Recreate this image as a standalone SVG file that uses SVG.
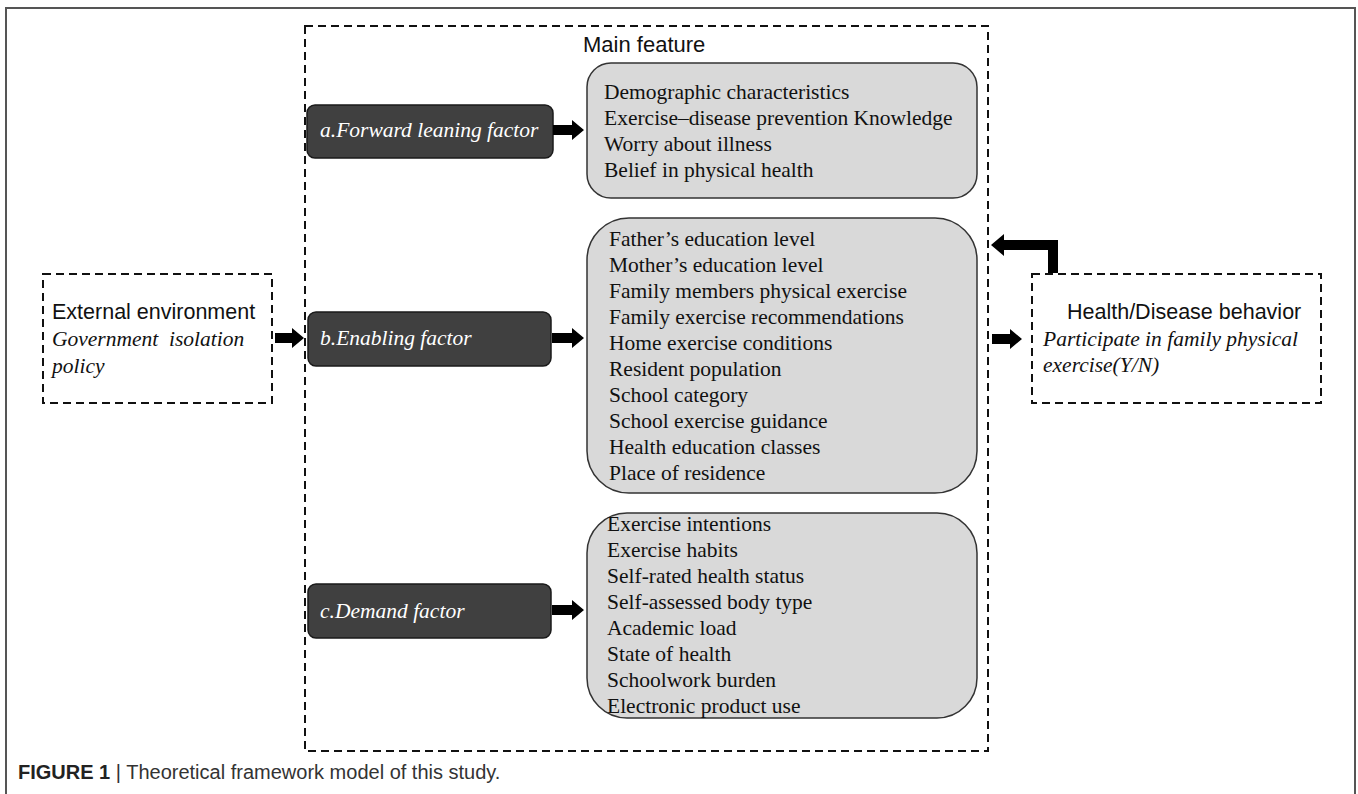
<svg xmlns="http://www.w3.org/2000/svg" width="1358" height="794" viewBox="0 0 1358 794">
<style>
.frame{fill:none;stroke:#555;stroke-width:2}
.dash{fill:none;stroke:#111;stroke-width:2;stroke-dasharray:8 5}
.dark{fill:#404040;stroke:#1a1a1a;stroke-width:1.5}
.grey{fill:#d9d9d9;stroke:#333;stroke-width:1.5}
.sans{font-family:"Liberation Sans",Arial,sans-serif;font-size:21.5px;fill:#111}
.serif{font-family:"Liberation Serif","Times New Roman",serif;font-size:21.5px;fill:#111}
.it{font-family:"Liberation Serif","Times New Roman",serif;font-size:21.5px;font-style:italic;fill:#111}
.wit{font-family:"Liberation Serif","Times New Roman",serif;font-size:21.5px;font-style:italic;fill:#fff}
.arrow{fill:#000}
.cap{font-family:"Liberation Sans",Arial,sans-serif;font-size:20px;fill:#333}
</style>
<rect x="0" y="0" width="1358" height="794" fill="#fff"/>
<rect class="frame" x="6" y="8" width="1349" height="800"/>

<g id="main-frame">
<rect class="dash" x="305" y="26" width="683" height="725"/>
<text class="sans" x="583" y="52" style="font-size:22px">Main feature</text>
</g>

<g id="external">
<rect class="dash" x="43" y="274" width="229" height="129"/>
<text class="sans" x="52" y="319">External environment</text>
<text class="it" x="52" y="346" xml:space="preserve">Government  isolation</text>
<text class="it" x="52" y="373">policy</text>
</g>

<g id="health">
<rect class="dash" x="1032" y="274" width="289" height="129"/>
<text class="sans" x="1067" y="319">Health/Disease behavior</text>
<text class="it" x="1043" y="346">Participate in family physical</text>
<text class="it" x="1043" y="372">exercise(Y/N)</text>
</g>

<g id="factor-a">
<rect class="dark" x="307" y="105" width="246" height="53" rx="8"/>
<text class="wit" x="320" y="137">a.Forward leaning factor</text>
</g>

<g id="factor-b">
<rect class="dark" x="308" y="312" width="243" height="54" rx="8"/>
<text class="wit" x="320" y="345">b.Enabling factor</text>
</g>

<g id="factor-c">
<rect class="dark" x="308" y="584" width="243" height="54" rx="8"/>
<text class="wit" x="320" y="618">c.Demand factor</text>
</g>

<g id="list-a">
<rect class="grey" x="587" y="63" width="390" height="135" rx="24"/>
<text class="serif" x="604" y="99">Demographic characteristics</text>
<text class="serif" x="604" y="125">Exercise–disease prevention Knowledge</text>
<text class="serif" x="604" y="151">Worry about illness</text>
<text class="serif" x="604" y="177">Belief in physical health</text>
</g>

<g id="list-b">
<rect class="grey" x="587" y="218" width="390" height="275" rx="42"/>
<text class="serif" x="609" y="246">Father’s education level</text>
<text class="serif" x="609" y="272">Mother’s education level</text>
<text class="serif" x="609" y="298">Family members physical exercise</text>
<text class="serif" x="609" y="324">Family exercise recommendations</text>
<text class="serif" x="609" y="350">Home exercise conditions</text>
<text class="serif" x="609" y="376">Resident population</text>
<text class="serif" x="609" y="402">School category</text>
<text class="serif" x="609" y="428">School exercise guidance</text>
<text class="serif" x="609" y="454">Health education classes</text>
<text class="serif" x="609" y="480">Place of residence</text>
</g>

<g id="list-c">
<rect class="grey" x="587" y="513" width="390" height="205" rx="40"/>
<text class="serif" x="607" y="531">Exercise intentions</text>
<text class="serif" x="607" y="557">Exercise habits</text>
<text class="serif" x="607" y="583">Self-rated health status</text>
<text class="serif" x="607" y="609">Self-assessed body type</text>
<text class="serif" x="607" y="635">Academic load</text>
<text class="serif" x="607" y="661">State of health</text>
<text class="serif" x="607" y="687">Schoolwork burden</text>
<text class="serif" x="607" y="713">Electronic product use</text>
</g>

<g id="connectors">
<polygon class="arrow" points="275,333 292,333 292,328 304,338 292,348 292,343 275,343"/>
<polygon class="arrow" points="553,125 572,125 572,120 584,130 572,140 572,135 553,135"/>
<polygon class="arrow" points="552,333 572,333 572,328 584,338 572,348 572,343 552,343"/>
<polygon class="arrow" points="552,605 572,605 572,600 584,610 572,620 572,615 552,615"/>
<polygon class="arrow" points="992,334 1010,334 1010,329 1022,339 1010,349 1010,344 992,344"/>
<polygon class="arrow" points="1048,273 1058,273 1058,240 1004,240 1004,234 991,245 1004,256 1004,250 1048,250"/>
</g>

<g id="caption">
<text class="cap" x="18" y="779"><tspan font-weight="bold" fill="#222">FIGURE 1</tspan> | Theoretical framework model of this study.</text>
</g>
</svg>
